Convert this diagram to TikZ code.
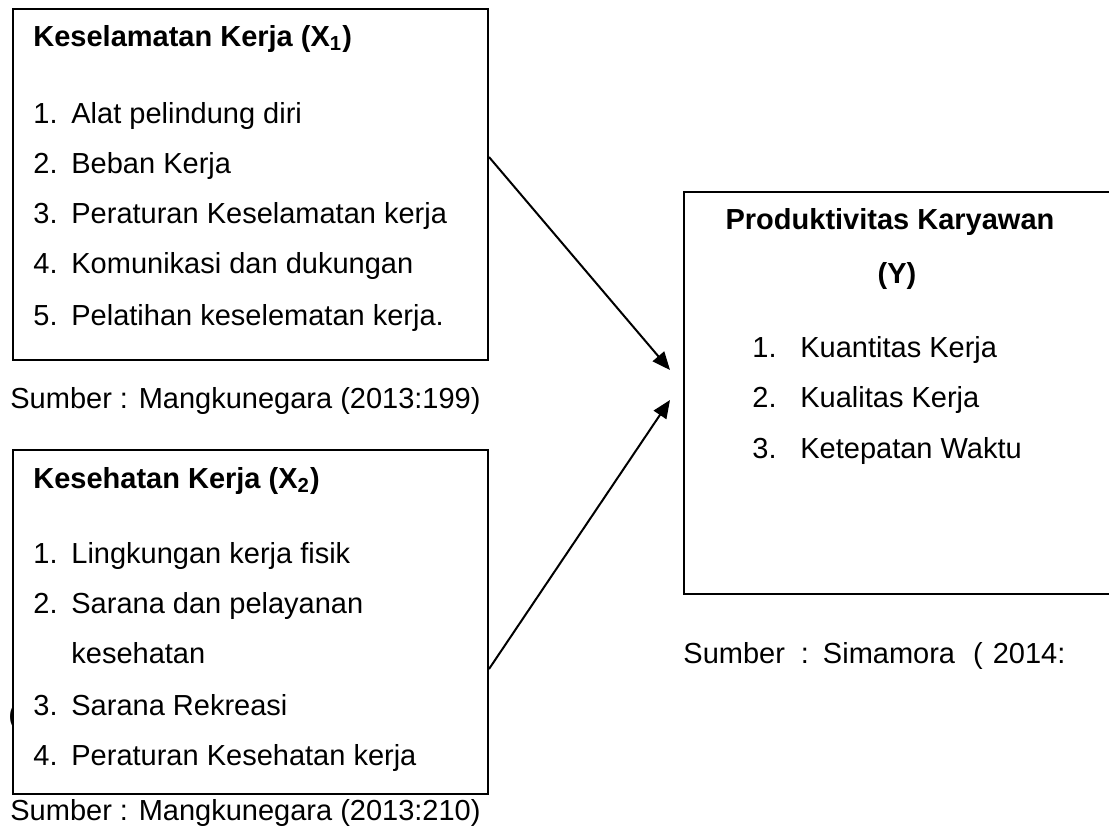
\documentclass[tikz,border=0pt]{standalone}
\usepackage{fontspec}
\setmainfont{Liberation Sans}
\usetikzlibrary{arrows.meta}

\tikzset{
  panel/.style={draw, line width=1pt, fill=white, anchor=north west, inner sep=0pt},
  txt/.style={anchor=base west, inner sep=0pt, font=\fontsize{14.5}{17}\selectfont},
  head/.style={anchor=base, inner sep=0pt, font=\fontsize{14.5}{17}\selectfont\bfseries},
  link/.style={line width=1pt, -{Triangle[length=9pt,width=7.5pt]}}
}
\newcommand{\itm}[2]{\makebox[19pt][l]{#1}#2}
\newcommand{\itmy}[2]{\makebox[24pt][l]{#1}#2}

\begin{document}
\begin{tikzpicture}[x=0.5pt,y=-0.5pt]
  \useasboundingbox (0,0) rectangle (1109,832);

  % keselamatan kerja
  \node[panel, minimum width=237.5pt, minimum height=175.5pt] (kk) at (12,8) {};
  \node[head, anchor=base west] (kkh) at (33,46) {Keselamatan Kerja (X\textsubscript{1})};
  \node[txt] (kk1) at (33,123) {\itm{1.}{Alat pelindung diri}};
  \node[txt] (kk2) at (33,173) {\itm{2.}{Beban Kerja}};
  \node[txt] (kk3) at (33,223) {\itm{3.}{Peraturan Keselamatan kerja}};
  \node[txt] (kk4) at (33,273) {\itm{4.}{Komunikasi dan dukungan}};
  \node[txt] (kk5) at (33,325) {\itm{5.}{Pelatihan keselematan kerja.}};
  \node[txt] (src1) at (10,408) {Sumber : Mangkunegara (2013:199)};

  % kesehatan kerja
  \node[txt] (stray) at (8,724) {(};
  \node[panel, minimum width=237.5pt, minimum height=172pt] (ks) at (12,449) {};
  \node[head, anchor=base west] (ksh) at (33,488) {Kesehatan Kerja (X\textsubscript{2})};
  \node[txt] (ks1) at (33,563) {\itm{1.}{Lingkungan kerja fisik}};
  \node[txt] (ks2) at (33,613) {\itm{2.}{Sarana dan pelayanan}};
  \node[txt] (ks2b) at (71,663) {kesehatan};
  \node[txt] (ks3) at (33,715) {\itm{3.}{Sarana Rekreasi}};
  \node[txt] (ks4) at (33,765) {\itm{4.}{Peraturan Kesehatan kerja}};
  \node[txt] (src2) at (10,820) {Sumber : Mangkunegara (2013:210)};

  % produktivitas
  \node[panel, minimum width=216pt, minimum height=201pt] (py) at (683,191) {};
  \node[head] (pyh) at (890,229) {Produktivitas Karyawan};
  \node[head] (pyy) at (897,283) {(Y)};
  \node[txt] (py1) at (752,357) {\itmy{1.}{Kuantitas Kerja}};
  \node[txt] (py2) at (752,407) {\itmy{2.}{Kualitas Kerja}};
  \node[txt] (py3) at (752,458) {\itmy{3.}{Ketepatan Waktu}};
  \node[txt] (src3) at (683,663) {Sumber\hspace{8pt}:\hspace{7pt}Simamora\hspace{9pt}(\hspace{5pt}2014:};

  % arrows
  \coordinate (t1) at (670,370);
  \coordinate (t2) at (670,400);
  \draw[link] (kk.east |- 0,157) -- (t1);
  \draw[link] (ks.east |- 0,669) -- (t2);
\end{tikzpicture}
\end{document}
